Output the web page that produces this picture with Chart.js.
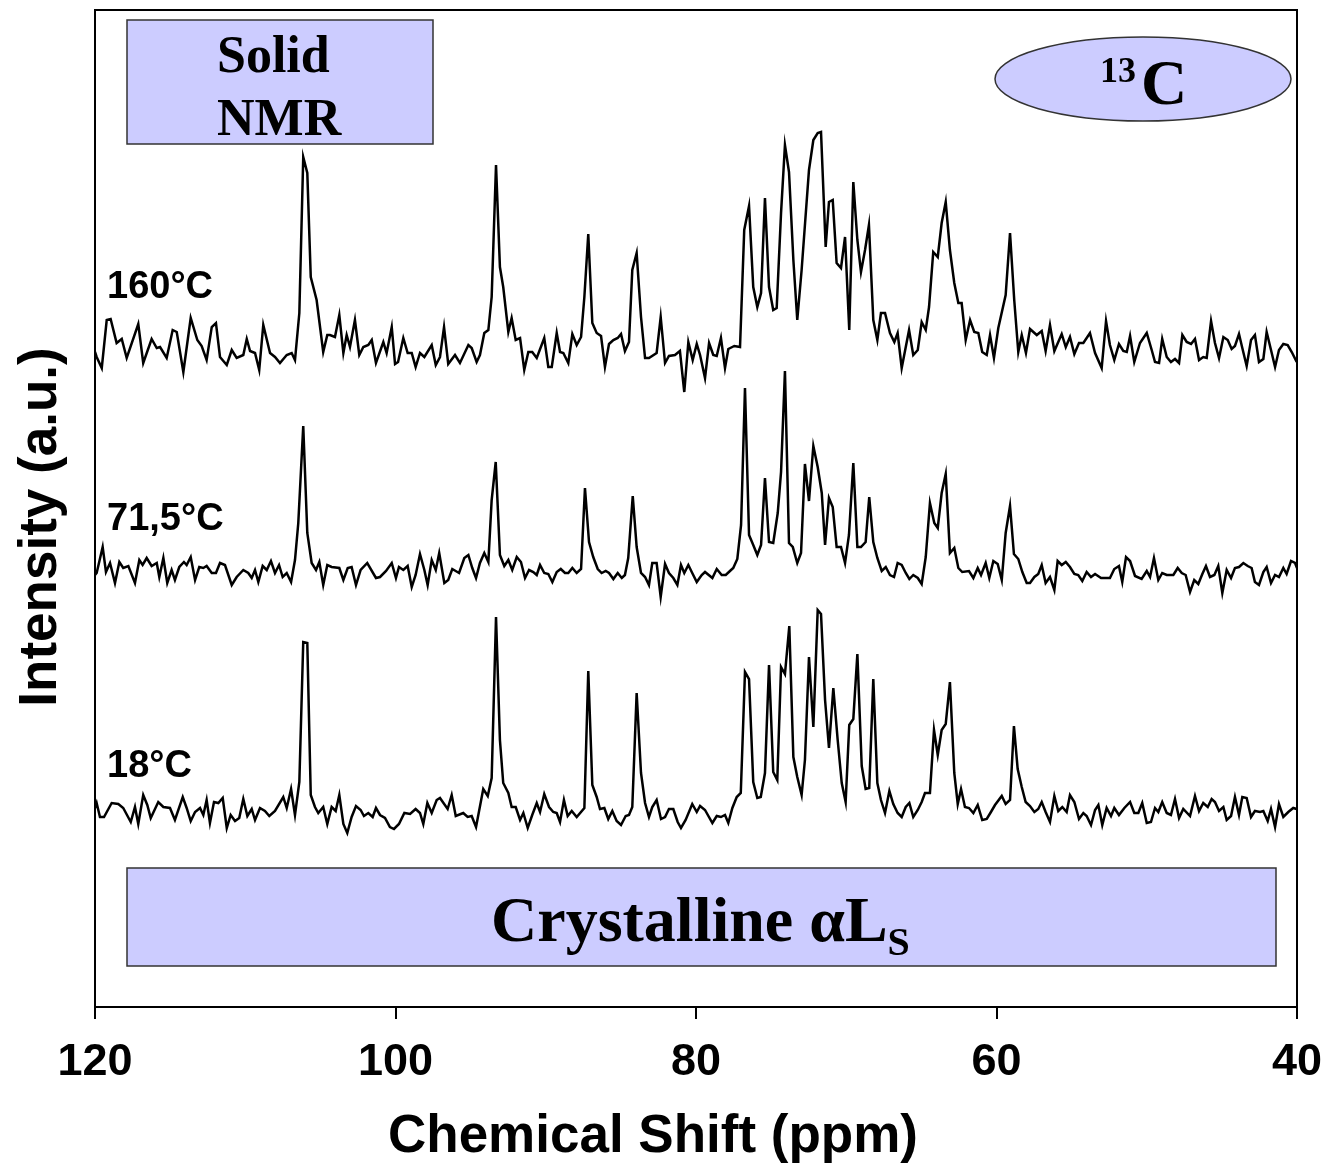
<!DOCTYPE html>
<html>
<head>
<meta charset="utf-8">
<script src="https://cdn.jsdelivr.net/npm/chart.js@4.4.1/dist/chart.umd.min.js"></script>
<style>
  html, body { margin: 0; padding: 0; background: #fff; }
  #wrap { width: 1331px; height: 1164px; }
</style>
</head>
<body>
<div id="wrap"><canvas id="nmr" width="1331" height="1164"></canvas></div>
<script>
// 13C solid-state NMR spectra, [chemical shift (ppm), intensity (a.u.)]
const spectrum160 = [[120,15],[119.89,10],[119.55,-1],[119.22,47],[118.96,48],[118.56,24],[118.22,28],[117.89,9],[117.12,43],[116.79,4],[116.23,28],[115.89,19],[115.67,20],[115.23,9],[114.83,37],[114.56,35],[114.12,-5],[113.63,49],[113.19,27],[112.90,21],[112.57,7],[112.23,40],[111.95,44],[111.68,10],[111.23,2],[110.90,17],[110.57,9],[110.13,12],[109.90,28],[109.68,16],[109.35,14],[109.07,-3],[108.80,42],[108.35,14],[108.02,10],[107.69,4],[107.24,12],[106.91,14],[106.69,7],[106.40,54],[106.14,210],[105.87,194],[105.64,90],[105.25,67],[104.81,15],[104.54,32],[104.36,32],[104.03,30],[103.74,52],[103.47,14],[103.25,32],[103.03,20],[102.70,47],[102.41,12],[102.14,20],[101.81,22],[101.58,27],[101.30,4],[100.81,25],[100.59,14],[100.25,40],[100.03,3],[99.83,5],[99.48,29],[99.19,14],[98.92,14],[98.66,0],[98.37,14],[98.08,10],[97.59,22],[97.32,2],[97.04,10],[96.77,40],[96.49,3],[96.04,12],[95.71,4],[95.15,22],[94.93,19],[94.60,5],[94.38,12],[94.09,34],[93.82,37],[93.60,70],[93.31,202],[93.05,100],[92.83,80],[92.49,35],[92.27,49],[92.00,27],[91.71,29],[91.43,-3],[91.16,15],[90.90,15],[90.60,9],[90.10,29],[89.83,0],[89.60,0],[89.27,34],[89.05,15],[88.83,14],[88.50,4],[88.23,33],[87.94,22],[87.65,30],[87.43,70],[87.17,133],[86.90,44],[86.61,34],[86.32,31],[86.06,0],[85.79,23],[85.50,27],[85.21,29],[84.99,33],[84.73,16],[84.46,25],[84.24,97],[83.95,114],[83.66,50],[83.39,9],[83.13,9],[82.62,14],[82.35,50],[82.06,4],[81.80,11],[81.40,12],[81.07,16],[80.78,-25],[80.51,25],[80.22,7],[79.95,23],[79.73,12],[79.40,-11],[79.13,24],[78.85,12],[78.62,11],[78.34,29],[78.07,-1],[77.85,18],[77.45,21],[77.07,20],[76.79,137],[76.47,161],[76.19,80],[75.92,60],[75.67,74],[75.41,169],[75.14,80],[74.86,57],[74.63,59],[74.34,154],[74.08,222],[73.81,195],[73.52,107],[73.26,47],[72.97,97],[72.48,197],[72.19,227],[71.90,234],[71.68,235],[71.37,120],[71.15,165],[70.90,167],[70.64,104],[70.35,99],[70.08,130],[69.80,37],[69.53,185],[69.26,127],[69.02,95],[68.75,117],[68.49,142],[68.20,47],[67.93,27],[67.69,54],[67.42,54],[67.09,34],[66.80,25],[66.58,34],[66.31,-1],[65.82,37],[65.54,12],[65.24,17],[64.98,45],[64.71,37],[64.49,60],[64.21,115],[63.91,110],[63.65,144],[63.38,165],[63.10,117],[62.81,84],[62.54,64],[62.32,64],[62.05,27],[61.76,47],[61.48,35],[61.21,34],[60.95,15],[60.65,12],[60.43,32],[60.17,9],[59.88,39],[59.39,72],[59.10,134],[58.82,67],[58.55,15],[58.32,32],[58.04,14],[57.77,38],[57.32,32],[56.99,36],[56.73,16],[56.44,42],[56.15,16],[55.66,33],[55.39,20],[55.11,30],[54.82,13],[54.51,24],[54.22,24],[53.78,34],[53.44,14],[53.00,-1],[52.71,46],[52.45,22],[52.16,7],[51.85,23],[51.56,16],[51.33,15],[51.11,31],[50.83,5],[50.45,24],[50.00,34],[49.67,17],[49.45,5],[49.18,4],[48.97,28],[48.67,10],[48.39,5],[48.12,8],[47.85,4],[47.63,32],[47.34,25],[47.05,23],[46.79,28],[46.52,7],[46.24,10],[46.01,9],[45.72,46],[45.46,24],[45.19,9],[44.90,30],[44.61,27],[44.35,18],[44.13,21],[43.86,33],[43.64,19],[43.35,1],[43.06,27],[42.80,32],[42.53,5],[42.24,8],[42.02,35],[41.73,17],[41.46,0],[41.20,17],[40.91,23],[40.62,22],[40.35,15],[40.02,5]];

const spectrum715 = [[120,12],[119.89,14],[119.49,40],[119.27,15],[119.00,24],[118.67,4],[118.38,25],[118.12,19],[117.78,21],[117.34,4],[117.05,27],[116.83,22],[116.56,29],[116.23,21],[115.89,24],[115.72,10],[115.45,29],[115.19,4],[114.90,17],[114.68,7],[114.39,20],[114.08,25],[113.90,22],[113.63,30],[113.34,7],[113.06,20],[112.79,19],[112.57,21],[112.23,14],[111.95,14],[111.68,24],[111.35,22],[110.90,2],[110.57,10],[110.13,17],[109.80,14],[109.57,9],[109.35,17],[109.13,5],[108.84,21],[108.57,17],[108.29,26],[108.02,14],[107.75,22],[107.51,10],[107.24,14],[106.95,5],[106.69,27],[106.47,64],[106.14,161],[105.87,54],[105.58,24],[105.29,17],[105.07,25],[104.81,2],[104.54,22],[104.25,20],[103.74,19],[103.47,7],[103.18,19],[102.92,20],[102.63,2],[102.32,17],[101.88,24],[101.30,9],[101.03,10],[100.63,16],[100.25,24],[99.97,9],[99.77,20],[99.48,17],[99.19,21],[98.92,0],[98.66,12],[98.37,33],[98.08,17],[97.86,2],[97.59,27],[97.32,17],[97.09,34],[96.75,4],[96.49,7],[96.22,18],[95.77,14],[95.42,29],[95.15,32],[94.89,19],[94.64,9],[94.38,24],[94.09,34],[93.82,25],[93.60,87],[93.33,125],[93.05,32],[92.76,21],[92.49,27],[92.23,17],[91.93,30],[91.65,25],[91.38,9],[91.11,17],[90.83,15],[90.60,12],[90.38,22],[90.10,14],[89.83,13],[89.56,5],[89.27,15],[89.00,18],[88.72,14],[88.50,14],[88.23,19],[87.94,14],[87.65,18],[87.39,99],[87.12,45],[86.84,30],[86.54,18],[86.28,14],[86.01,16],[85.79,14],[85.50,8],[85.21,14],[84.94,9],[84.73,12],[84.51,29],[84.21,91],[83.95,40],[83.66,14],[83.39,10],[83.13,2],[82.91,24],[82.62,24],[82.35,-10],[82.06,23],[81.80,14],[81.51,9],[81.24,2],[81.00,22],[80.78,14],[80.51,22],[80.25,14],[79.95,5],[79.62,12],[79.40,15],[78.91,9],[78.62,18],[78.29,12],[78.02,12],[77.74,16],[77.52,19],[77.25,28],[77.00,62],[76.74,199],[76.47,52],[76.19,42],[75.92,32],[75.67,42],[75.41,109],[75.14,45],[74.86,44],[74.56,74],[74.34,115],[74.08,216],[73.81,44],[73.56,40],[73.26,24],[73.01,34],[72.75,123],[72.48,86],[72.19,141],[71.90,120],[71.63,94],[71.41,42],[71.15,89],[70.90,80],[70.64,40],[70.35,40],[70.08,24],[69.82,52],[69.53,124],[69.26,40],[69.02,40],[68.71,45],[68.47,90],[68.20,45],[67.93,29],[67.64,16],[67.37,20],[67.09,12],[66.82,10],[66.58,24],[66.31,22],[66.04,14],[65.80,8],[65.54,12],[65.24,9],[64.98,3],[64.71,30],[64.43,84],[64.14,64],[63.91,59],[63.65,94],[63.38,113],[63.10,34],[62.81,39],[62.54,19],[62.28,15],[61.83,16],[61.54,9],[61.25,19],[61.03,12],[60.72,24],[60.48,9],[60.21,26],[59.92,23],[59.65,7],[59.39,54],[59.10,81],[58.84,33],[58.55,28],[58.28,15],[57.99,4],[57.77,4],[57.48,10],[57.22,13],[56.99,22],[56.73,4],[56.44,10],[56.15,-3],[55.93,26],[55.66,22],[55.39,25],[55.11,20],[54.82,13],[54.56,12],[54.29,6],[54.00,15],[53.71,10],[53.44,13],[53.04,9],[52.45,9],[52.16,18],[51.85,21],[51.63,5],[51.38,30],[51.11,26],[50.78,11],[50.34,8],[50.00,16],[49.78,10],[49.52,29],[49.23,7],[48.97,14],[48.67,12],[48.23,12],[47.94,19],[47.67,14],[47.41,12],[47.12,-5],[46.84,7],[46.57,3],[46.30,13],[46.06,21],[45.79,10],[45.50,12],[45.24,21],[44.97,-6],[44.68,17],[44.39,9],[44.13,19],[43.86,20],[43.57,24],[43.28,21],[43.02,19],[42.80,5],[42.53,2],[42.24,15],[42.02,20],[41.73,4],[41.46,12],[41.20,10],[40.91,19],[40.69,13],[40.40,26],[40.13,24],[40.00,19]];

const spectrum18 = [[120,19],[119.89,24],[119.67,10],[119.40,10],[118.89,24],[118.45,23],[118.12,19],[117.62,5],[117.34,20],[117.12,3],[116.79,32],[116.52,22],[116.29,9],[115.79,25],[115.45,20],[115.01,19],[114.68,7],[114.16,30],[113.90,19],[113.63,6],[113.34,15],[113.01,19],[112.79,12],[112.57,27],[112.35,4],[112.08,25],[111.79,24],[111.50,29],[111.23,-1],[110.97,12],[110.68,6],[110.40,9],[110.13,28],[109.86,11],[109.57,18],[109.35,7],[109.02,19],[108.69,16],[108.40,11],[108.02,16],[107.47,30],[107.24,19],[106.95,38],[106.69,12],[106.40,45],[106.14,185],[105.87,184],[105.64,32],[105.36,20],[105.14,14],[104.81,20],[104.54,3],[104.25,20],[103.98,16],[103.74,32],[103.47,3],[103.21,-6],[102.92,10],[102.63,21],[102.32,17],[102.10,11],[101.81,14],[101.52,10],[101.30,19],[101.03,12],[100.70,9],[100.37,0],[100.10,-2],[99.77,3],[99.41,14],[99.03,13],[98.66,18],[98.37,14],[98.15,3],[97.88,24],[97.59,14],[97.26,27],[97.04,29],[96.53,18],[96.26,32],[95.99,11],[95.49,14],[95.20,10],[94.93,11],[94.64,0],[94.16,38],[93.86,31],[93.60,49],[93.31,210],[93.05,87],[92.83,44],[92.49,34],[92.27,20],[92.00,20],[91.71,7],[91.49,14],[91.20,-1],[90.90,12],[90.60,24],[90.38,15],[90.10,33],[89.78,20],[89.50,15],[89.27,14],[89.05,5],[88.79,27],[88.54,11],[88.27,16],[87.94,10],[87.43,19],[87.17,156],[86.90,42],[86.61,30],[86.39,18],[86.10,19],[85.84,8],[85.57,16],[85.28,6],[84.99,2],[84.68,11],[84.46,12],[84.24,20],[83.95,134],[83.66,54],[83.39,24],[83.13,10],[82.91,20],[82.62,27],[82.33,8],[82.06,10],[81.80,18],[81.51,18],[81.22,5],[81.00,-1],[80.69,7],[80.25,23],[79.95,15],[79.73,21],[79.40,17],[78.91,4],[78.62,11],[78.34,10],[78.07,12],[77.85,4],[77.58,19],[77.29,30],[77.02,34],[76.74,155],[76.47,148],[76.19,45],[75.92,29],[75.69,30],[75.41,54],[75.14,162],[74.86,55],[74.59,47],[74.34,160],[74.08,153],[73.79,201],[73.52,70],[73.26,50],[72.97,32],[72.75,67],[72.48,170],[72.19,100],[71.90,217],[71.68,213],[71.41,127],[71.15,79],[70.86,139],[70.57,87],[70.30,44],[70.04,25],[69.80,102],[69.53,108],[69.26,173],[68.97,61],[68.71,38],[68.47,39],[68.20,148],[67.93,44],[67.69,27],[67.42,14],[67.13,36],[66.87,23],[66.58,14],[66.31,10],[66.04,20],[65.80,24],[65.54,10],[65.24,17],[64.98,25],[64.76,34],[64.43,34],[64.16,97],[63.91,72],[63.65,97],[63.38,103],[63.10,145],[62.81,54],[62.58,23],[62.36,38],[62.10,20],[61.83,19],[61.54,14],[61.25,22],[60.95,7],[60.65,8],[60.37,15],[60.10,22],[59.65,31],[59.39,23],[59.10,27],[58.84,101],[58.59,58],[58.32,40],[58.06,25],[57.77,21],[57.48,15],[57.22,18],[56.99,25],[56.73,15],[56.44,5],[56.15,31],[55.89,16],[55.62,20],[55.33,15],[55.11,32],[54.82,25],[54.51,8],[54.22,14],[54.00,11],[53.71,2],[53.44,17],[53.22,22],[52.96,2],[52.67,19],[52.38,11],[52.16,19],[51.85,12],[51.49,19],[51.11,25],[50.83,14],[50.56,14],[50.30,24],[50.00,4],[49.72,5],[49.45,19],[49.23,15],[48.97,25],[48.67,14],[48.39,12],[48.12,28],[47.85,9],[47.57,18],[47.12,11],[46.79,31],[46.52,16],[46.24,24],[45.94,20],[45.68,28],[45.46,25],[45.19,16],[44.90,20],[44.68,7],[44.39,11],[44.13,30],[43.86,12],[43.64,30],[43.35,29],[43.06,10],[42.80,16],[42.46,15],[42.24,16],[41.95,6],[41.73,18],[41.46,0],[41.20,23],[40.91,10],[40.58,15],[40.25,19],[40.02,18]];

// stacking: each trace is lifted by its own vertical offset
const traceNames = ['160°C', '71,5°C', '18°C'];
const traceOffsets = [640, 420, 180];
const traceData = [spectrum160, spectrum715, spectrum18];
const shiftTicks = [120, 100, 80, 60, 40];

const SERIF = '"Liberation Serif", "Times New Roman", serif';
const SANS = '"Liberation Sans", Arial, sans-serif';
const LAVENDER = '#ccccff';

const datasets = traceData.map((pts, i) => ({
  label: traceNames[i],
  data: pts.map(([ppm, v]) => ({ x: ppm, y: v + traceOffsets[i] })),
  borderColor: '#000',
  borderWidth: 2.5,
  pointRadius: 0,
  tension: 0,
  fill: false
}));

function filledBox(ctx, x, y, w, h) {
  ctx.fillStyle = LAVENDER;
  ctx.fillRect(x, y, w, h);
  ctx.strokeStyle = '#333';
  ctx.lineWidth = 1.5;
  ctx.strokeRect(x, y, w, h);
}

const decorations = {
  id: 'decorations',
  afterDraw(chart) {
    const { ctx, chartArea: a } = chart;
    ctx.save();
    // plot frame
    ctx.strokeStyle = '#000';
    ctx.lineWidth = 2;
    ctx.strokeRect(a.left, a.top, a.right - a.left, a.bottom - a.top);

    // "Solid NMR" box
    filledBox(ctx, 127, 20, 306, 124);
    ctx.fillStyle = '#000';
    ctx.font = 'bold 52px ' + SERIF;
    ctx.textAlign = 'left';
    ctx.textBaseline = 'alphabetic';
    ctx.fillText('Solid', 217, 72);
    ctx.fillText('NMR', 217, 135);

    // 13C nucleus ellipse
    ctx.beginPath();
    ctx.ellipse(1143, 79, 148, 42, 0, 0, Math.PI * 2);
    ctx.fillStyle = LAVENDER;
    ctx.fill();
    ctx.strokeStyle = '#333';
    ctx.lineWidth = 1.5;
    ctx.stroke();
    ctx.fillStyle = '#000';
    ctx.font = 'bold 36px ' + SERIF;
    ctx.fillText('13', 1100, 82);
    ctx.font = 'bold 64px ' + SERIF;
    ctx.fillText('C', 1141, 104);

    // phase box
    filledBox(ctx, 127, 868, 1149, 98);
    ctx.fillStyle = '#000';
    ctx.font = 'bold 64px ' + SERIF;
    const main = 'Crystalline \u03B1L';
    ctx.fillText(main, 491, 941);
    const w = ctx.measureText(main).width;
    ctx.font = 'bold 40px ' + SERIF;
    ctx.fillText('S', 491 + w, 955);

    // trace labels
    ctx.font = 'bold 38px ' + SANS;
    const labelBase = [298, 530, 777];
    traceNames.forEach((t, i) => ctx.fillText(t, 107, labelBase[i]));

    // axis titles
    ctx.font = 'bold 53px ' + SANS;
    ctx.textAlign = 'center';
    ctx.fillText('Chemical Shift (ppm)', 653, 1152);
    ctx.save();
    ctx.translate(56, 527);
    ctx.rotate(-Math.PI / 2);
    ctx.fillText('Intensity (a.u.)', 0, 0);
    ctx.restore();
    ctx.restore();
  }
};

new Chart(document.getElementById('nmr'), {
  type: 'line',
  data: { datasets },
  options: {
    responsive: false,
    animation: false,
    devicePixelRatio: 1,
    layout: { padding: { left: 95, right: 34, top: 10, bottom: 0 } },
    plugins: { legend: { display: false }, tooltip: { enabled: false } },
    scales: {
      x: {
        type: 'linear',
        reverse: true,
        min: 40,
        max: 120,
        afterBuildTicks(scale) { scale.ticks = shiftTicks.map(v => ({ value: v })); },
        afterFit(scale) {
          scale.height = 157;
          scale.paddingLeft = 0;
          scale.paddingRight = 0;
        },
        grid: { drawOnChartArea: false, drawTicks: true, tickLength: 12, color: '#000', lineWidth: 2 },
        border: { display: true, color: '#000', width: 2 },
        ticks: {
          color: '#000',
          padding: 17,
          maxRotation: 0,
          font: { family: SANS, size: 45, weight: 'bold' },
          callback: v => String(v)
        }
      },
      y: {
        type: 'linear',
        display: false,
        min: 0,
        max: 997
      }
    }
  },
  plugins: [decorations]
});
</script>
</body>
</html>
